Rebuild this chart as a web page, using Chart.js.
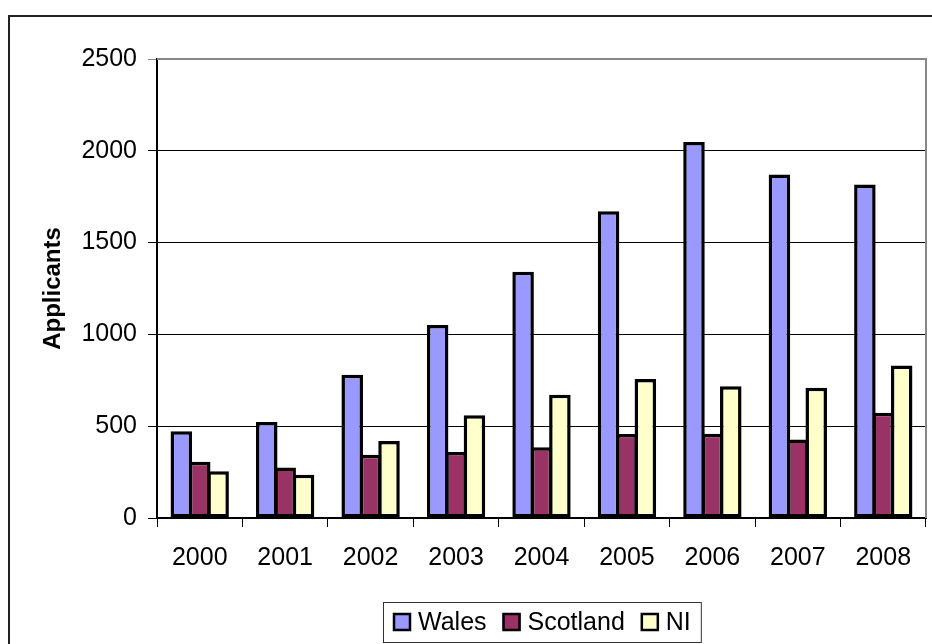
<!DOCTYPE html>
<html>
<head>
<meta charset="utf-8">
<title>Applicants</title>
<script src="https://cdn.jsdelivr.net/npm/chart.js@4.4.1/dist/chart.umd.min.js"></script>
<style>
  body { margin: 0; background: #fff; }
  canvas { display: block; }
</style>
</head>
<body>
<canvas id="chart" width="932" height="644"></canvas>
<script>
var years = ['2000', '2001', '2002', '2003', '2004', '2005', '2006', '2007', '2008'];
var wales = [472, 523, 780, 1051, 1341, 1671, 2048, 1871, 1816];
var scotland = [307, 275, 345, 360, 385, 458, 459, 427, 573];
var ni = [254, 235, 420, 559, 671, 757, 718, 709, 830];
var yTicks = [0, 500, 1000, 1500, 2000, 2500];

var FONT = 'Liberation Sans, Arial, sans-serif';

// frame, plot border and boxed legend like the original
var decor = {
  id: 'decor',
  beforeDraw: function(chart) {
    var ctx = chart.ctx;
    ctx.save();
    ctx.fillStyle = '#fff';
    ctx.fillRect(0, 0, chart.width, chart.height);
    ctx.strokeStyle = '#222';
    ctx.lineWidth = 2;
    ctx.strokeRect(9, 16, chart.width + 20, chart.height + 20);
    ctx.restore();
  },
  afterDraw: function(chart) {
    var ctx = chart.ctx;
    var a = chart.chartArea;
    ctx.save();
    // grey top / right edge of plot area
    ctx.strokeStyle = '#888';
    ctx.lineWidth = 2;
    ctx.beginPath();
    ctx.moveTo(a.left, a.top);
    ctx.lineTo(a.right, a.top);
    ctx.lineTo(a.right, a.bottom);
    ctx.stroke();

    // legend
    ctx.font = '25px ' + FONT;
    var items = chart.data.datasets.map(function(ds) {
      return { label: ds.label, color: ds.backgroundColor, w: ctx.measureText(ds.label).width };
    });
    var box = 18, gap = 7, itemGap = 16, pad = 10;
    var total = pad * 2;
    items.forEach(function(it, i) { total += box + gap + it.w + (i ? itemGap : 0); });
    var left = Math.round((a.left + a.right) / 2 - total / 2);
    var top = 602, h = 40;
    ctx.strokeStyle = '#333';
    ctx.lineWidth = 1;
    ctx.strokeRect(left + 0.5, top + 0.5, total, h);
    var x = left + pad, cy = top + h / 2;
    ctx.textBaseline = 'middle';
    ctx.textAlign = 'left';
    items.forEach(function(it) {
      ctx.fillStyle = it.color;
      ctx.fillRect(x, cy - box / 2, box, box);
      ctx.strokeStyle = '#000';
      ctx.lineWidth = 2.5;
      ctx.strokeRect(x + 1, cy - box / 2 + 1, box - 2, box - 2);
      ctx.fillStyle = '#000';
      ctx.fillText(it.label, x + box + gap, cy + 1);
      x += box + gap + it.w + itemGap;
    });
    ctx.restore();
  }
};

var barStyle = { borderColor: '#000', borderWidth: 3.5, borderSkipped: false,
                 categoryPercentage: 0.646, barPercentage: 1.17 };

new Chart(document.getElementById('chart'), {
  type: 'bar',
  data: {
    labels: years,
    datasets: [
      Object.assign({ label: 'Wales', data: wales, backgroundColor: '#9999FF' }, barStyle),
      Object.assign({ label: 'Scotland', data: scotland, backgroundColor: '#993366' }, barStyle),
      Object.assign({ label: 'NI', data: ni, backgroundColor: '#FFFFCC' }, barStyle)
    ]
  },
  options: {
    responsive: false,
    animation: false,
    layout: { padding: { top: 59, right: 6, left: 0, bottom: 0 } },
    plugins: { legend: { display: false }, tooltip: { enabled: false } },
    scales: {
      x: {
        offset: true,
        grid: { drawOnChartArea: false, drawTicks: true, tickLength: 9, color: '#000', offset: true },
        border: { color: '#000', width: 2 },
        ticks: { color: '#000', font: { family: FONT, size: 25 }, padding: 16, maxRotation: 0 },
        afterFit: function(scale) { scale.height = 126; }
      },
      y: {
        min: 0,
        max: 2500,
        afterBuildTicks: function(scale) {
          scale.ticks = yTicks.map(function(v) { return { value: v }; });
        },
        grid: {
          color: function(c) { return c.tick && c.tick.value === 2500 ? '#888' : '#000'; },
          lineWidth: 1,
          tickLength: 9
        },
        border: { color: '#000', width: 2 },
        ticks: {
          color: '#000', font: { family: FONT, size: 25 }, padding: 11,
          callback: function(v) { return String(v); }
        },
        title: {
          display: true,
          text: 'Applicants',
          color: '#000',
          font: { family: FONT, size: 24, weight: 'bold' },
          padding: { top: 39, bottom: 0 }
        },
        afterFit: function(scale) { scale.width = 157; }
      }
    }
  },
  plugins: [decor]
});
</script>
</body>
</html>
